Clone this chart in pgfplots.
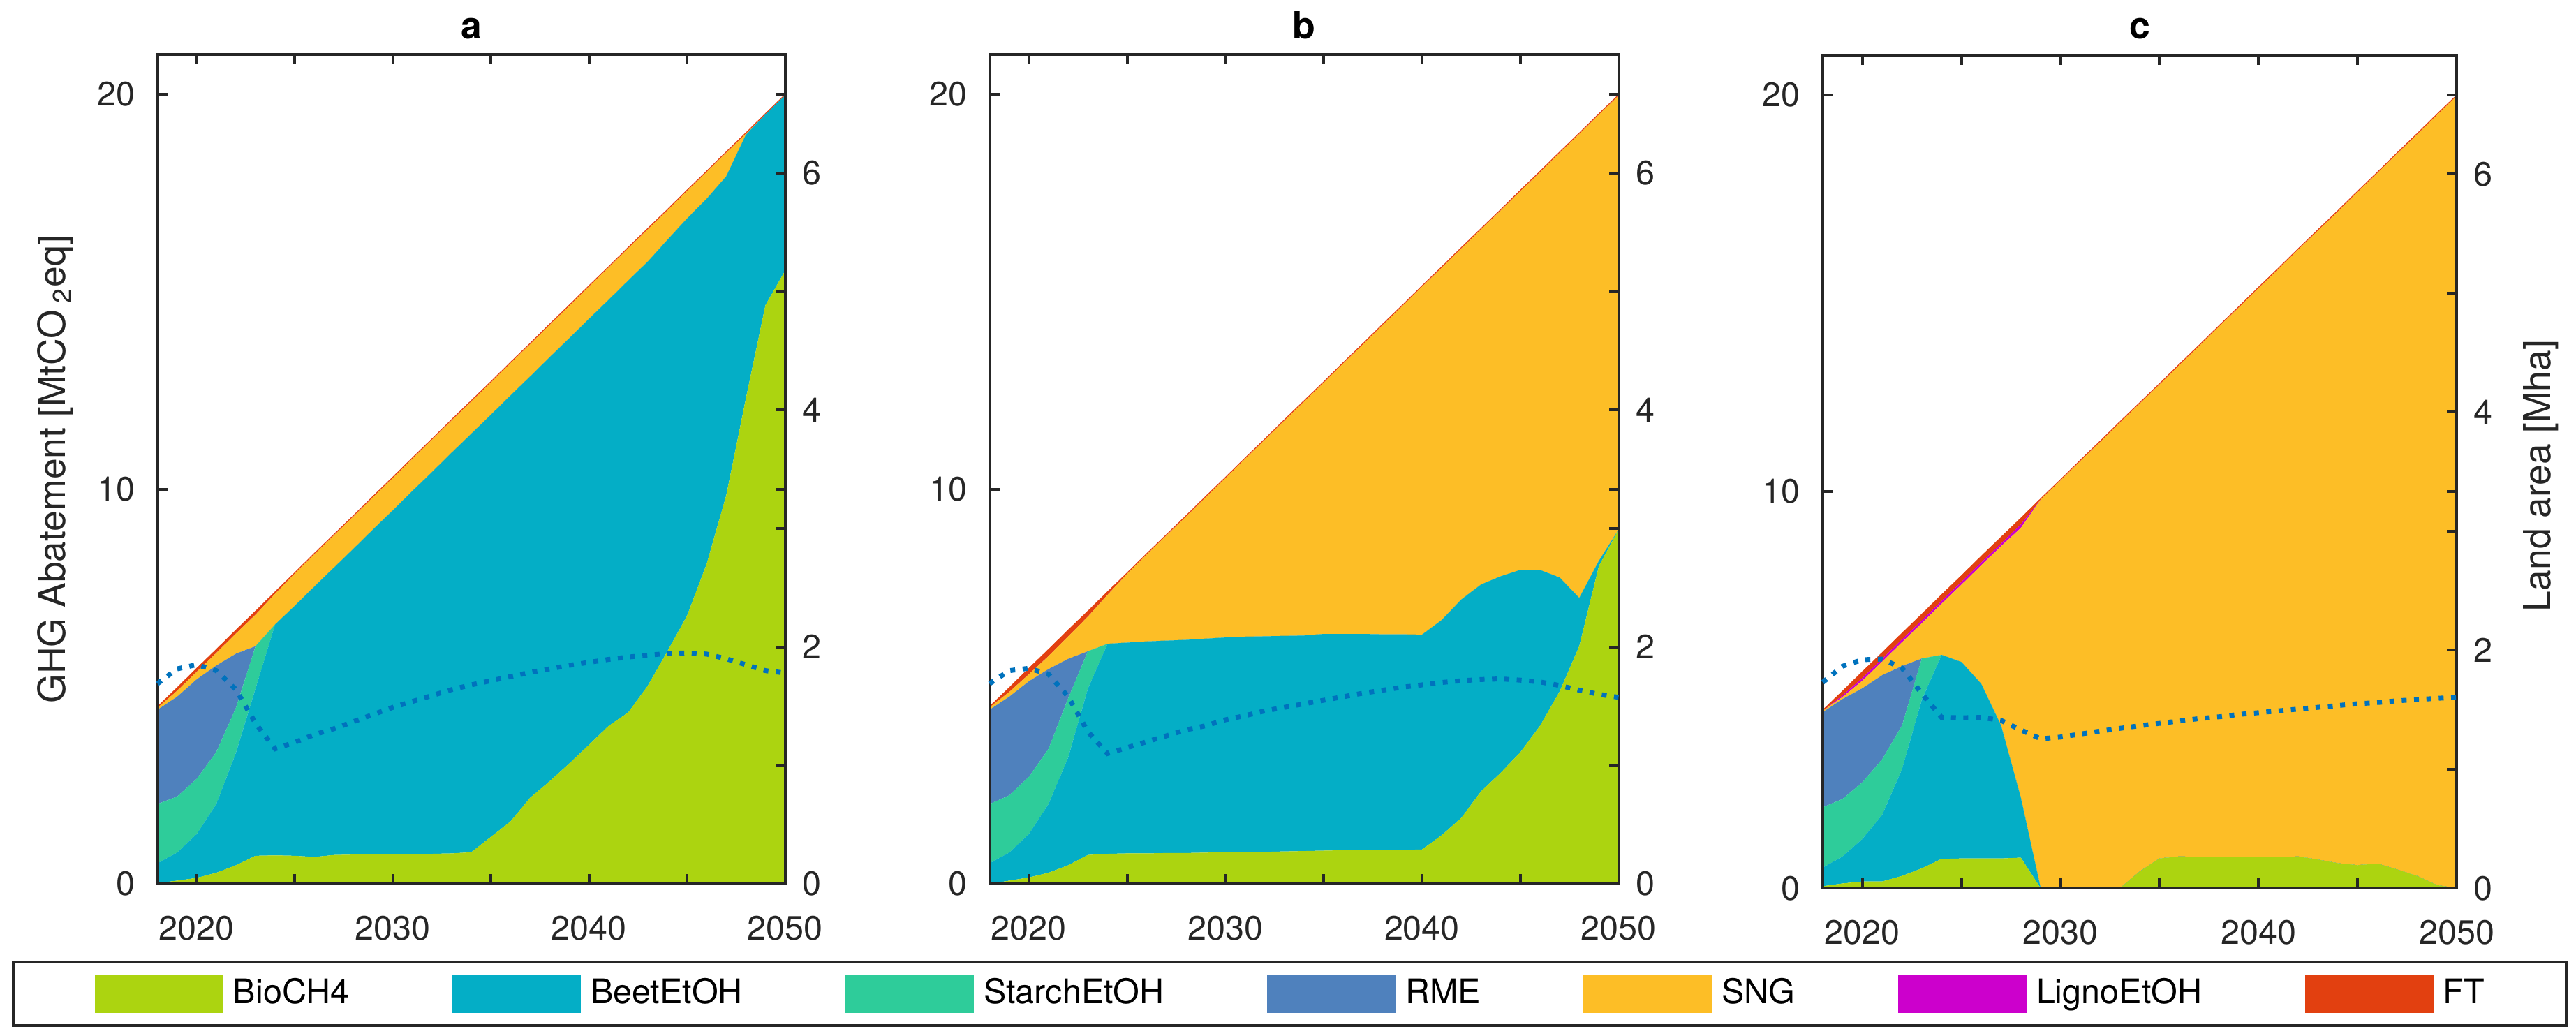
\documentclass[border=0pt]{standalone}
\usepackage{fontspec}
\setmainfont{TeX Gyre Heros}
\usepackage{pgfplots}
\usepackage{pgfplotstable}
\pgfplotsset{compat=1.18}

\definecolor{cBio}{RGB}{172,212,16}
\definecolor{cBeet}{RGB}{4,174,198}
\definecolor{cStarch}{RGB}{46,204,154}
\definecolor{cRME}{RGB}{79,129,189}
\definecolor{cSNG}{RGB}{253,190,38}
\definecolor{cLigno}{RGB}{204,0,204}
\definecolor{cFT}{RGB}{226,64,16}
\definecolor{cLand}{RGB}{0,114,189}
\definecolor{axgray}{RGB}{38,38,38}

\pgfplotstableread{
year bio beet starch rme sng ligno ft land
2018 0.02 0.50 1.50 2.39 0.05 0 0.04 1.69
2019 0.08 0.71 1.42 2.53 0.15 0 0.09 1.815
2020 0.15 1.11 1.40 2.52 0.19 0 0.10 1.85
2021 0.28 1.74 1.32 2.19 0.32 0 0.10 1.80
2022 0.47 2.85 1.14 1.37 0.51 0 0.10 1.64
2023 0.71 4.24 1.07 0 0.80 0 0.10 1.355
2024 0.72 5.85 0 0 0.78 0 0.06 1.14
2025 0.71 6.33 0 0 0.82 0 0.035 1.195
2026 0.68 6.85 0 0 0.82 0 0.035 1.26
2027 0.73 7.28 0 0 0.82 0 0.035 1.31
2028 0.74 7.75 0 0 0.82 0 0.035 1.37
2029 0.74 8.24 0 0 0.82 0 0.035 1.43
2030 0.75 8.71 0 0 0.82 0 0.035 1.49
2031 0.75 9.20 0 0 0.82 0 0.035 1.54
2032 0.76 9.67 0 0 0.82 0 0.035 1.59
2033 0.77 10.15 0 0 0.82 0 0.035 1.64
2034 0.80 10.60 0 0 0.82 0 0.035 1.68
2035 1.19 10.69 0 0 0.82 0 0.035 1.715
2036 1.58 10.79 0 0 0.82 0 0.035 1.75
2037 2.18 10.67 0 0 0.82 0 0.035 1.785
2038 2.60 10.74 0 0 0.82 0 0.035 1.815
2039 3.05 10.77 0 0 0.82 0 0.035 1.845
2040 3.52 10.79 0 0 0.82 0 0.035 1.87
2041 4.00 10.79 0 0 0.82 0 0.035 1.895
2042 4.34 10.94 0 0 0.82 0 0.035 1.915
2043 5.02 10.74 0 0 0.82 0 0.035 1.93
2044 5.89 10.42 0 0 0.75 0 0.035 1.945
2045 6.79 10.06 0 0 0.70 0 0.035 1.95
2046 8.10 9.25 0 0 0.68 0 0.035 1.94
2047 9.84 8.08 0 0 0.60 0 0.035 1.90
2048 12.29 6.68 0 0 0.03 0 0.035 1.85
2049 14.66 4.83 0 0 0 0 0.035 1.80
2050 15.53 4.44 0 0 0 0 0.035 1.78
}\tabA

\pgfplotstableread{
year bio beet starch rme sng ligno ft land
2018 0.00 0.52 1.50 2.39 0.06 0 0.03 1.69
2019 0.08 0.71 1.45 2.50 0.12 0 0.12 1.80
2020 0.16 1.10 1.45 2.42 0.18 0 0.16 1.82
2021 0.28 1.74 1.40 2.02 0.33 0 0.18 1.77
2022 0.47 2.73 1.50 1.00 0.57 0 0.17 1.58
2023 0.73 4.21 0.95 0 0.88 0 0.15 1.285
2024 0.76 5.32 0 0 1.24 0 0.09 1.10
2025 0.77 5.34 0 0 1.745 0 0.035 1.15
2026 0.77 5.37 0 0 2.205 0 0.035 1.20
2027 0.78 5.38 0 0 2.665 0 0.035 1.25
2028 0.78 5.40 0 0 3.125 0 0.035 1.30
2029 0.79 5.42 0 0 3.585 0 0.035 1.335
2030 0.80 5.44 0 0 4.035 0 0.035 1.385
2031 0.80 5.46 0 0 4.505 0 0.035 1.42
2032 0.81 5.46 0 0 4.975 0 0.035 1.46
2033 0.82 5.46 0 0 5.455 0 0.035 1.49
2034 0.83 5.46 0 0 5.925 0 0.035 1.52
2035 0.84 5.49 0 0 6.365 0 0.035 1.55
2036 0.85 5.48 0 0 6.855 0 0.035 1.58
2037 0.85 5.48 0 0 7.335 0 0.035 1.61
2038 0.86 5.46 0 0 7.835 0 0.035 1.635
2039 0.86 5.46 0 0 8.315 0 0.035 1.66
2040 0.87 5.44 0 0 8.815 0 0.035 1.68
2041 1.23 5.45 0 0 8.925 0 0.035 1.70
2042 1.67 5.53 0 0 8.895 0 0.035 1.715
2043 2.34 5.24 0 0 8.995 0 0.035 1.725
2044 2.81 4.98 0 0 9.265 0 0.035 1.73
2045 3.33 4.62 0 0 9.595 0 0.035 1.72
2046 4.00 3.95 0 0 10.075 0 0.035 1.705
2047 4.87 2.89 0 0 10.755 0 0.035 1.675
2048 6.02 1.22 0 0 11.755 0 0.035 1.635
2049 8.05 0.13 0 0 11.305 0 0.035 1.60
2050 8.97 0.00 0 0 10.995 0 0.035 1.575
}\tabB

\pgfplotstableread{
year bio beet starch rme sng ligno ft land
2018 0.05 0.47 1.52 2.40 0.03 0 0.03 1.73
2019 0.12 0.68 1.45 2.52 0.05 0.04 0.12 1.865
2020 0.17 1.07 1.43 2.37 0.19 0.07 0.17 1.92
2021 0.17 1.68 1.40 2.12 0.34 0.07 0.17 1.925
2022 0.31 2.69 1.10 1.50 0.60 0.07 0.17 1.85
2023 0.50 4.25 1.04 0 0.89 0.07 0.17 1.635
2024 0.74 5.14 0 0 1.29 0.07 0.17 1.435
2025 0.75 4.95 0 0 1.95 0.07 0.17 1.432
2026 0.75 4.40 0 0 2.99 0.07 0.17 1.435
2027 0.75 3.35 0 0 4.52 0.07 0.17 1.41
2028 0.77 1.51 0 0 6.80 0.09 0.17 1.33
2029 0 0 0 0 9.795 0 0.035 1.255
2030 0 0 0 0 10.275 0 0.035 1.27
2031 0 0 0 0 10.765 0 0.035 1.295
2032 0 0 0 0 11.245 0 0.035 1.32
2033 0 0 0 0 11.735 0 0.035 1.343
2034 0.42 0 0 0 11.795 0 0.035 1.365
2035 0.75 0 0 0 11.945 0 0.035 1.385
2036 0.80 0 0 0 12.385 0 0.035 1.405
2037 0.79 0 0 0 12.875 0 0.035 1.425
2038 0.78 0 0 0 13.375 0 0.035 1.44
2039 0.78 0 0 0 13.855 0 0.035 1.46
2040 0.79 0 0 0 14.335 0 0.035 1.475
2041 0.78 0 0 0 14.825 0 0.035 1.49
2042 0.80 0 0 0 15.295 0 0.035 1.505
2043 0.72 0 0 0 15.855 0 0.035 1.52
2044 0.63 0 0 0 16.425 0 0.035 1.535
2045 0.58 0 0 0 16.965 0 0.035 1.55
2046 0.62 0 0 0 17.405 0 0.035 1.56
2047 0.47 0 0 0 18.045 0 0.035 1.575
2048 0.31 0 0 0 18.685 0 0.035 1.585
2049 0.08 0 0 0 19.405 0 0.035 1.595
2050 0 0 0 0 19.965 0 0.035 1.605
}\tabC

\newcommand{\tickfont}{\fontsize{9.7}{11}\selectfont}
\newcommand{\labfont}{\fontsize{10.7}{12}\selectfont}

\pgfplotsset{
  basestyle/.style={
    scale only axis,
    xmin=2018, xmax=2050,
    tick align=inside,
    major tick length=2.8pt,
    every major tick/.append style={line width=0.8pt, draw=axgray},
    axis line style={line width=0.8pt, draw=axgray},
    tick label style={font=\tickfont, text=axgray},
    /pgf/number format/assume math mode=true,
  },
  leftax/.style={
    basestyle,
    ymin=0, ymax=21,
    ytick={0,10,20},
    xtick={2020,2025,...,2050},
    xticklabels={2020,,2030,,2040,,2050},
    xtick pos=both, xticklabel pos=bottom,
    ytick pos=both, yticklabel pos=left,
    xticklabel style={yshift=-5.7pt},
    yticklabel style={xshift=-2.9pt},
    stack plots=y,
    axis on top,
    title style={at={(axis description cs:0.5,1)}, anchor=base, yshift=-1.4pt, font=\labfont\bfseries},
    legend image code/.code={\fill[##1] (0pt,-5.5pt) rectangle (36.8pt,5.5pt);},
  },
  rightax/.style={
    basestyle,
    ymin=0, ymax=7,
    ytick={0,1,...,6},
    yticklabels={0,,2,,4,,6},
    ytick pos=right, yticklabel pos=right,
    yticklabel style={xshift=1.4pt},
    hide x axis,
    clip=false,
  },
  landline/.style={draw=cLand, line width=1.4pt, line cap=butt, dash pattern=on 1.4pt off 2.14pt},
}

\begin{document}
\begin{tikzpicture}
\path[use as bounding box] (0,0) rectangle (738pt,296.8pt);

% ---------- panel a ----------
\begin{axis}[leftax, at={(45.12pt,43.6pt)}, anchor=south west, width=179.8pt, height=237.5pt,
  title={a},
  ylabel={GHG Abatement [MtCO\,\textsubscript{2}eq]},
  ylabel style={at={(axis description cs:-0.1464,0.5)}, anchor=base, font=\labfont, text=axgray},
  legend columns=7,
  legend style={at={(axis description cs:1.8041,-0.13263)}, anchor=center,
    draw=axgray, line width=0.8pt, inner xsep=23.3pt, inner ysep=3.6pt,
    font=\tickfont, text=black,
    nodes={inner sep=0pt},
    /tikz/every odd column/.append style={column sep=2.8pt},
    /tikz/every even column/.append style={column sep=29.5pt}},
  ]
\addplot[fill=cBio, draw=none] table[x=year,y=bio]{\tabA} \closedcycle;
\addplot[fill=cBeet, draw=none] table[x=year,y=beet]{\tabA} \closedcycle;
\addplot[fill=cStarch, draw=none] table[x=year,y=starch]{\tabA} \closedcycle;
\addplot[fill=cRME, draw=none] table[x=year,y=rme]{\tabA} \closedcycle;
\addplot[fill=cSNG, draw=none] table[x=year,y=sng]{\tabA} \closedcycle;
\addplot[fill=cLigno, draw=none] table[x=year,y=ligno]{\tabA} \closedcycle;
\addplot[fill=cFT, draw=none] table[x=year,y=ft]{\tabA} \closedcycle;
\legend{BioCH4,BeetEtOH,StarchEtOH,RME,SNG,LignoEtOH,FT}
\end{axis}
\begin{axis}[rightax, at={(45.12pt,43.6pt)}, anchor=south west, width=179.8pt, height=237.5pt]
\addplot[landline] table[x=year,y=land]{\tabA};
\end{axis}

% ---------- panel b ----------
\begin{axis}[leftax, at={(283.5pt,43.6pt)}, anchor=south west, width=180.2pt, height=237.5pt,
  title={b}]
\addplot[fill=cBio, draw=none] table[x=year,y=bio]{\tabB} \closedcycle;
\addplot[fill=cBeet, draw=none] table[x=year,y=beet]{\tabB} \closedcycle;
\addplot[fill=cStarch, draw=none] table[x=year,y=starch]{\tabB} \closedcycle;
\addplot[fill=cRME, draw=none] table[x=year,y=rme]{\tabB} \closedcycle;
\addplot[fill=cSNG, draw=none] table[x=year,y=sng]{\tabB} \closedcycle;
\addplot[fill=cLigno, draw=none] table[x=year,y=ligno]{\tabB} \closedcycle;
\addplot[fill=cFT, draw=none] table[x=year,y=ft]{\tabB} \closedcycle;
\end{axis}
\begin{axis}[rightax, at={(283.5pt,43.6pt)}, anchor=south west, width=180.2pt, height=237.5pt]
\addplot[landline] table[x=year,y=land]{\tabB};
\end{axis}

% ---------- panel c ----------
\begin{axis}[leftax, at={(522.2pt,42.34pt)}, anchor=south west, width=181.6pt, height=238.7pt,
  title={c}]
\addplot[fill=cBio, draw=none] table[x=year,y=bio]{\tabC} \closedcycle;
\addplot[fill=cBeet, draw=none] table[x=year,y=beet]{\tabC} \closedcycle;
\addplot[fill=cStarch, draw=none] table[x=year,y=starch]{\tabC} \closedcycle;
\addplot[fill=cRME, draw=none] table[x=year,y=rme]{\tabC} \closedcycle;
\addplot[fill=cSNG, draw=none] table[x=year,y=sng]{\tabC} \closedcycle;
\addplot[fill=cLigno, draw=none] table[x=year,y=ligno]{\tabC} \closedcycle;
\addplot[fill=cFT, draw=none] table[x=year,y=ft]{\tabC} \closedcycle;
\end{axis}
\begin{axis}[rightax, at={(522.2pt,42.34pt)}, anchor=south west, width=181.6pt, height=238.7pt,
  ylabel={Land area [Mha]},
  ylabel style={at={(axis description cs:1.1476,0.495)}, anchor=base, rotate=0, font=\labfont, text=axgray}]
\addplot[landline] table[x=year,y=land]{\tabC};
\end{axis}
\end{tikzpicture}
\end{document}
